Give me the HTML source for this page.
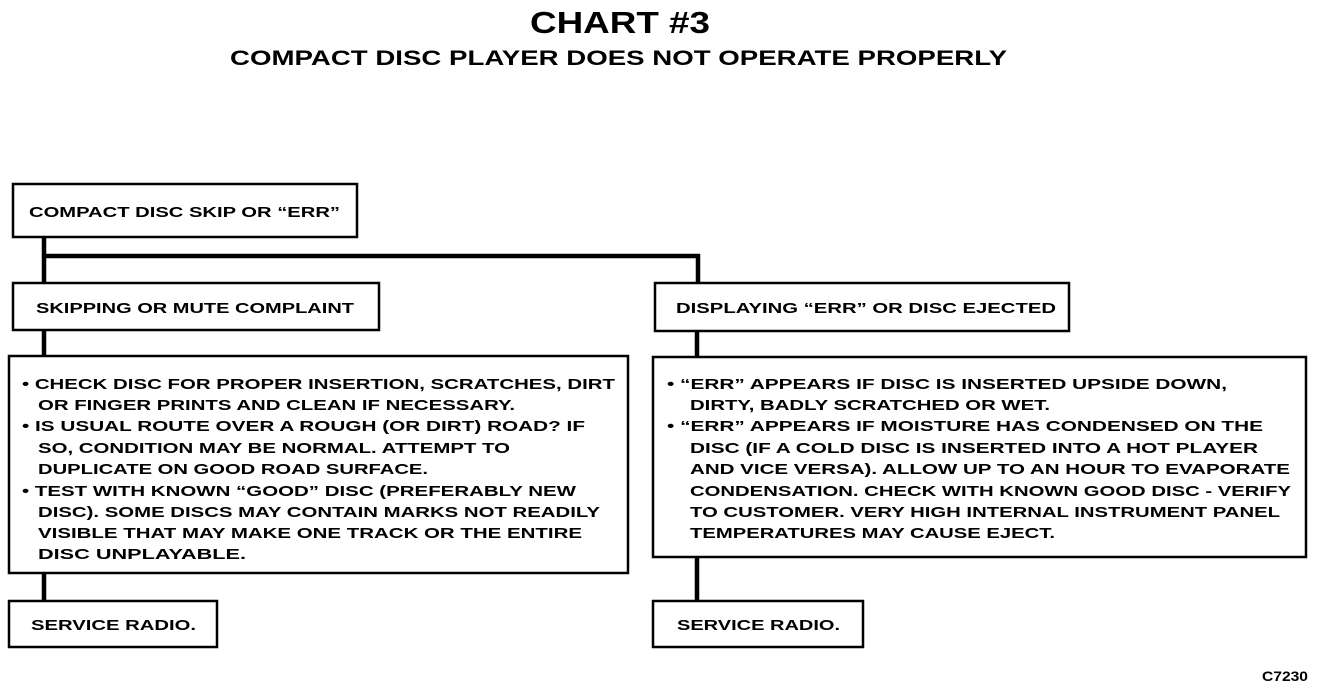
<!DOCTYPE html>
<html><head><meta charset="utf-8"><style>html,body{margin:0;padding:0;background:#fff}svg{display:block}</style></head>
<body>
<svg width="1328" height="688" viewBox="0 0 1328 688" xmlns="http://www.w3.org/2000/svg" font-family="Liberation Sans, Arial, sans-serif" font-weight="bold" fill="#000">
<rect width="1328" height="688" fill="#fff"/>
<text x="530" y="33" font-size="31" textLength="180" lengthAdjust="spacingAndGlyphs">CHART #3</text>
<text x="230" y="65" font-size="21" textLength="777" lengthAdjust="spacingAndGlyphs">COMPACT DISC PLAYER DOES NOT OPERATE PROPERLY</text>

<g fill="none" stroke="#000" stroke-width="2.5">
<rect x="13" y="184" width="344" height="53"/>
<rect x="13" y="283" width="366" height="47"/>
<rect x="655" y="283" width="414" height="48"/>
<rect x="9" y="356" width="619" height="217"/>
<rect x="653" y="357" width="653" height="200"/>
<rect x="9" y="601" width="208" height="46"/>
<rect x="653" y="601" width="210" height="46"/>
</g>
<g fill="none" stroke="#000" stroke-width="4.5">
<path d="M44 237 V283 M42 256 H700 M698 254 V283"/>
<path d="M44 330 V356 M44 573 V601"/>
<path d="M697 331 V357 M697 557 V601"/>
</g>

<g font-size="15">
<text x="29" y="217" textLength="311" lengthAdjust="spacingAndGlyphs">COMPACT DISC SKIP OR “ERR”</text>
<text x="36" y="313" textLength="318" lengthAdjust="spacingAndGlyphs">SKIPPING OR MUTE COMPLAINT</text>
<text x="676" y="313" textLength="380" lengthAdjust="spacingAndGlyphs">DISPLAYING “ERR” OR DISC EJECTED</text>
<text x="31" y="630" textLength="165" lengthAdjust="spacingAndGlyphs">SERVICE RADIO.</text>
<text x="677" y="630" textLength="163" lengthAdjust="spacingAndGlyphs">SERVICE RADIO.</text>

<text x="22" y="389" textLength="593" lengthAdjust="spacingAndGlyphs">• CHECK DISC FOR PROPER INSERTION, SCRATCHES, DIRT</text>
<text x="38" y="410" textLength="477" lengthAdjust="spacingAndGlyphs">OR FINGER PRINTS AND CLEAN IF NECESSARY.</text>
<text x="22" y="431" textLength="563" lengthAdjust="spacingAndGlyphs">• IS USUAL ROUTE OVER A ROUGH (OR DIRT) ROAD? IF</text>
<text x="38" y="453" textLength="472" lengthAdjust="spacingAndGlyphs">SO, CONDITION MAY BE NORMAL. ATTEMPT TO</text>
<text x="38" y="474" textLength="390" lengthAdjust="spacingAndGlyphs">DUPLICATE ON GOOD ROAD SURFACE.</text>
<text x="22" y="496" textLength="554" lengthAdjust="spacingAndGlyphs">• TEST WITH KNOWN “GOOD” DISC (PREFERABLY NEW</text>
<text x="38" y="517" textLength="562" lengthAdjust="spacingAndGlyphs">DISC). SOME DISCS MAY CONTAIN MARKS NOT READILY</text>
<text x="38" y="538" textLength="544" lengthAdjust="spacingAndGlyphs">VISIBLE THAT MAY MAKE ONE TRACK OR THE ENTIRE</text>
<text x="38" y="559" textLength="208" lengthAdjust="spacingAndGlyphs">DISC UNPLAYABLE.</text>

<text x="667" y="389" textLength="560" lengthAdjust="spacingAndGlyphs">• “ERR” APPEARS IF DISC IS INSERTED UPSIDE DOWN,</text>
<text x="690" y="410" textLength="360" lengthAdjust="spacingAndGlyphs">DIRTY, BADLY SCRATCHED OR WET.</text>
<text x="667" y="431" textLength="596" lengthAdjust="spacingAndGlyphs">• “ERR” APPEARS IF MOISTURE HAS CONDENSED ON THE</text>
<text x="690" y="453" textLength="568" lengthAdjust="spacingAndGlyphs">DISC (IF A COLD DISC IS INSERTED INTO A HOT PLAYER</text>
<text x="690" y="474" textLength="600" lengthAdjust="spacingAndGlyphs">AND VICE VERSA). ALLOW UP TO AN HOUR TO EVAPORATE</text>
<text x="690" y="496" textLength="601" lengthAdjust="spacingAndGlyphs">CONDENSATION. CHECK WITH KNOWN GOOD DISC - VERIFY</text>
<text x="690" y="517" textLength="590" lengthAdjust="spacingAndGlyphs">TO CUSTOMER. VERY HIGH INTERNAL INSTRUMENT PANEL</text>
<text x="690" y="538" textLength="365" lengthAdjust="spacingAndGlyphs">TEMPERATURES MAY CAUSE EJECT.</text>

<text x="1262" y="681" font-size="14" textLength="46" lengthAdjust="spacingAndGlyphs">C7230</text>
</g>
</svg>
</body></html>
